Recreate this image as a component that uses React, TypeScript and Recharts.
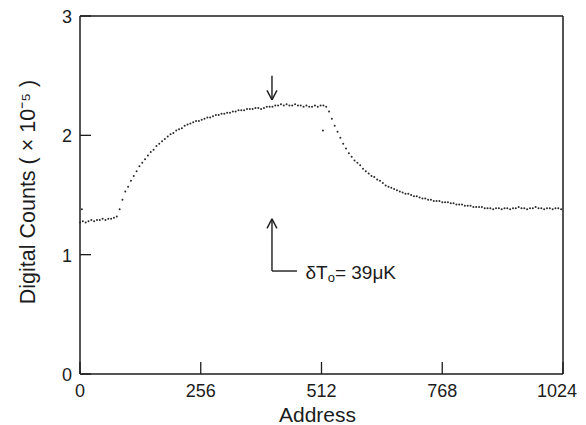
import React from "react";
import {
  ScatterChart,
  Scatter,
  XAxis,
  YAxis,
  ReferenceLine,
  ReferenceDot,
} from "recharts";

// Address channels sampled every 6 addresses (0 .. 1020)
const ADDRESS_STEP = 6;

// Digital counts (x10^-5)
const countValues: number[] = [
  1.27, 1.28, 1.27, 1.28, 1.29, 1.28, 1.29, 1.29, 1.3, 1.29,
  1.3, 1.3, 1.31, 1.32, 1.38, 1.46, 1.53, 1.57, 1.62, 1.66,
  1.7, 1.74, 1.77, 1.8, 1.83, 1.86, 1.88, 1.91, 1.93, 1.95,
  1.97, 1.99, 2.01, 2.02, 2.04, 2.05, 2.06, 2.08, 2.09, 2.1,
  2.11, 2.12, 2.12, 2.13, 2.14, 2.15, 2.15, 2.16, 2.17, 2.17,
  2.18, 2.18, 2.19, 2.19, 2.2, 2.2, 2.21, 2.21, 2.21, 2.22,
  2.22, 2.22, 2.23, 2.23, 2.22, 2.23, 2.24, 2.24, 2.24, 2.25,
  2.25, 2.26, 2.25, 2.26, 2.25, 2.25, 2.26, 2.25, 2.25, 2.24,
  2.25, 2.24, 2.24, 2.25, 2.24, 2.25, 2.25, 2.24, 2.2, 2.14,
  2.08, 2.03, 1.98, 1.93, 1.89, 1.85, 1.82, 1.79, 1.77, 1.75,
  1.72, 1.7, 1.68, 1.66, 1.65, 1.63, 1.62, 1.6, 1.58, 1.57,
  1.56, 1.55, 1.54, 1.53, 1.52, 1.51, 1.51, 1.5, 1.49, 1.49,
  1.48, 1.47, 1.47, 1.46, 1.46, 1.45, 1.45, 1.45, 1.44, 1.44,
  1.44, 1.43, 1.43, 1.42, 1.42, 1.42, 1.41, 1.41, 1.41, 1.4,
  1.4, 1.4, 1.4, 1.39, 1.39, 1.39, 1.38, 1.39, 1.39, 1.38,
  1.39, 1.39, 1.38, 1.39, 1.39, 1.4, 1.39, 1.39, 1.38, 1.39,
  1.39, 1.4, 1.39, 1.39, 1.38, 1.39, 1.39, 1.38, 1.39, 1.39,
  1.38,
];

// isolated stray dots
const strayAddresses = [4, 515];
const strayCounts = [1.38, 2.04];

const xTicks = [0, 256, 512, 768, 1024];
const yTicks = [0, 1, 2, 3];

// annotation (data coordinates)
const arrowAddress = 407;
const downArrowTop = 2.5;
const downArrowTip = 2.297;
const upArrowTip = 1.3;
const upArrowBottom = 0.863;
const cornerEndAddress = 460;
const noteAddress = 478;
const headHalfWidth = 10.5;
const headLength = 0.08;

const trace = countValues.map((v, i) => ({ address: i * ADDRESS_STEP, counts: v }));
const strays = strayAddresses.map((a, i) => ({ address: a, counts: strayCounts[i] }));

const INK = "#1c1c1c";
const FONT = "'Liberation Sans', Arial, sans-serif";
const CHART_W = 570;
const CHART_H = 417;

const Dot = (props: any) => (
  <circle cx={props.cx} cy={props.cy} r={1} fill="#2a2a2a" />
);

const XTick = (props: any) => {
  const { x, y, payload } = props;
  // keep the last label inside the drawing area
  const isLast = payload.value === xTicks[xTicks.length - 1];
  return (
    <g>
      <line x1={x} y1={y} x2={x} y2={y - 12} stroke={INK} strokeWidth={1.3} />
      <text
        x={isLast ? CHART_W - 1 : x}
        y={y + 17}
        textAnchor={isLast ? "end" : "middle"}
        dominantBaseline="central"
        fontSize={18}
        fontFamily={FONT}
        fill={INK}
      >
        {payload.value}
      </text>
    </g>
  );
};

const YTick = (props: any) => {
  const { x, y, payload } = props;
  return (
    <g>
      <line x1={x} y1={y} x2={x + 11} y2={y} stroke={INK} strokeWidth={1.3} />
      <text
        x={x - 8}
        y={y + 1}
        textAnchor="end"
        dominantBaseline="central"
        fontSize={18}
        fontFamily={FONT}
        fill={INK}
      >
        {payload.value}
      </text>
    </g>
  );
};

const NoteLabel = (props: any) => {
  const vb = props.viewBox || {};
  return (
    <text
      x={vb.x}
      y={vb.y + 1}
      dominantBaseline="central"
      fontSize={19}
      fontFamily={FONT}
      fill={INK}
    >
      δT
      <tspan fontSize={13} dy={5}>o</tspan>
      <tspan dy={-5}>= 39μK</tspan>
    </text>
  );
};

const seg = { stroke: INK, strokeWidth: 1.4 };

export default function App() {
  return (
    <ScatterChart
      width={CHART_W}
      height={CHART_H}
      margin={{ top: 8, right: 15, bottom: 0, left: 0 }}
    >
      <XAxis
        type="number"
        dataKey="address"
        domain={[0, 1024]}
        ticks={xTicks}
        interval={0}
        tickSize={0}
        tickMargin={0}
        tickLine={false}
        tick={<XTick />}
        height={51}
        axisLine={{ stroke: INK, strokeWidth: 1.5 }}
        label={{
          value: "Address",
          position: "insideBottom",
          offset: 3,
          dx: -4,
          fontSize: 21,
          fontFamily: FONT,
          fill: INK,
        }}
      />
      <YAxis
        type="number"
        dataKey="counts"
        domain={[0, 3]}
        ticks={yTicks}
        interval={0}
        tickSize={0}
        tickMargin={0}
        tickLine={false}
        tick={<YTick />}
        width={72}
        axisLine={{ stroke: INK, strokeWidth: 1.5 }}
        label={{
          value: "Digital Counts ( × 10⁻⁵ )",
          angle: -90,
          position: "center",
          dx: -17,
          dy: -3,
          fontSize: 21.5,
          fontFamily: FONT,
          fill: INK,
        }}
      />
      <ReferenceLine y={3} stroke={INK} strokeWidth={1.5} />
      <ReferenceLine x={1024} stroke={INK} strokeWidth={1.5} />

      <Scatter data={trace} shape={<Dot />} isAnimationActive={false} />
      <Scatter data={strays} shape={<Dot />} isAnimationActive={false} />

      {/* down arrow */}
      <ReferenceLine
        segment={[
          { x: arrowAddress, y: downArrowTop },
          { x: arrowAddress, y: downArrowTip },
        ]}
        {...seg}
      />
      <ReferenceLine
        segment={[
          { x: arrowAddress - headHalfWidth, y: downArrowTip + headLength },
          { x: arrowAddress, y: downArrowTip },
        ]}
        {...seg}
      />
      <ReferenceLine
        segment={[
          { x: arrowAddress + headHalfWidth, y: downArrowTip + headLength },
          { x: arrowAddress, y: downArrowTip },
        ]}
        {...seg}
      />

      {/* up arrow with corner */}
      <ReferenceLine
        segment={[
          { x: arrowAddress, y: upArrowTip },
          { x: arrowAddress, y: upArrowBottom },
        ]}
        {...seg}
      />
      <ReferenceLine
        segment={[
          { x: arrowAddress, y: upArrowBottom },
          { x: cornerEndAddress, y: upArrowBottom },
        ]}
        {...seg}
      />
      <ReferenceLine
        segment={[
          { x: arrowAddress - headHalfWidth, y: upArrowTip - headLength },
          { x: arrowAddress, y: upArrowTip },
        ]}
        {...seg}
      />
      <ReferenceLine
        segment={[
          { x: arrowAddress + headHalfWidth, y: upArrowTip - headLength },
          { x: arrowAddress, y: upArrowTip },
        ]}
        {...seg}
      />
      <ReferenceDot
        x={noteAddress}
        y={upArrowBottom}
        r={0}
        stroke="none"
        fill="none"
        label={<NoteLabel />}
      />
    </ScatterChart>
  );
}
